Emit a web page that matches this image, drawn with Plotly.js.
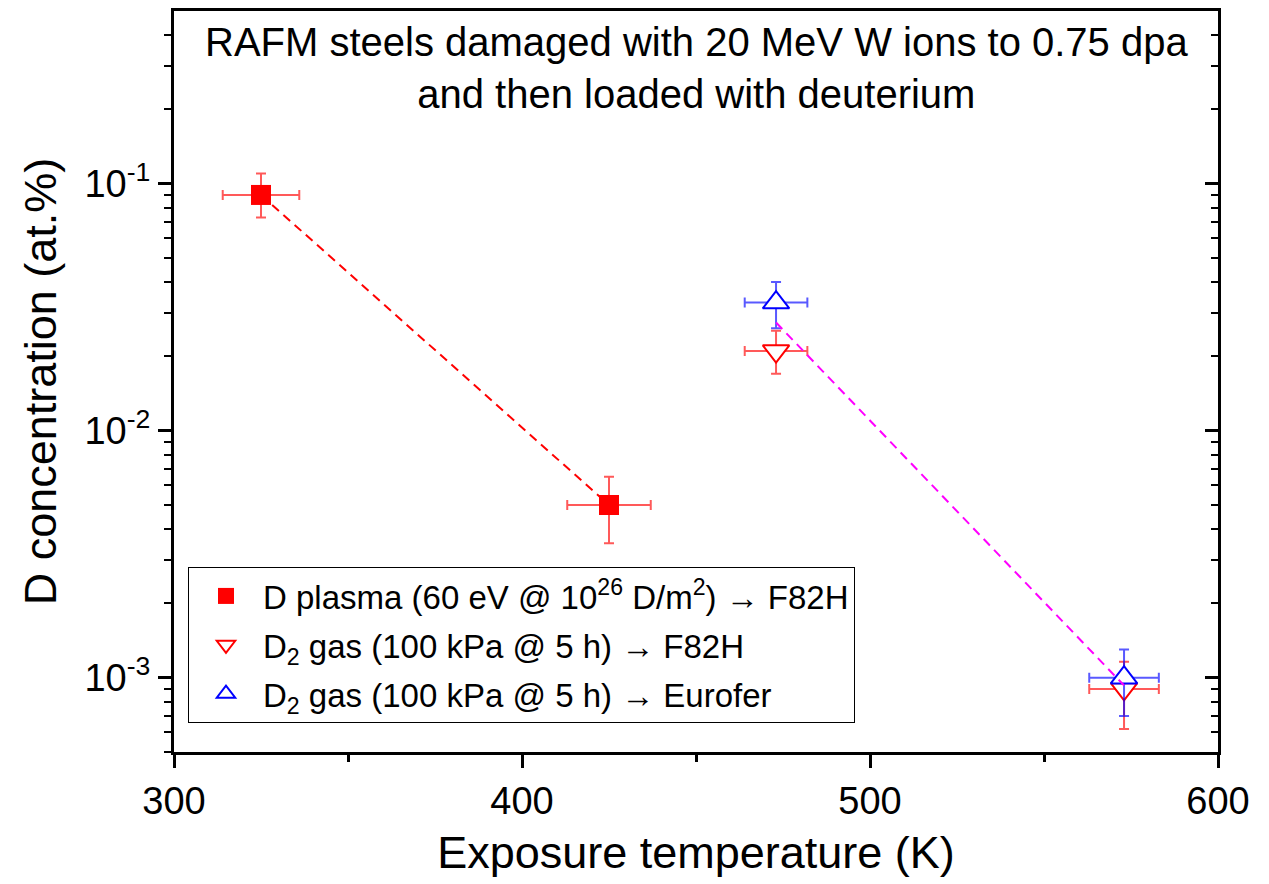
<!DOCTYPE html>
<html>
<head>
<meta charset="utf-8">
<script src="https://cdn.plot.ly/plotly-3.0.1.min.js"></script>
<style>html,body{margin:0;padding:0;background:#fff;}#chart{width:1269px;height:884px;}</style>
</head>
<body>
<div id="chart"></div>
<script>
// D plasma -> F82H
const plasmaT = [325, 425];
const plasmaD = [0.09, 0.005];
const plasmaDErrPlus = [0.02, 0.0015];
const plasmaDErrMinus = [0.017, 0.0015];
const plasmaTErr = [11, 12];

// D2 gas -> F82H
const gasF82HT = [473, 573];
const gasF82HD = [0.021, 0.0009];
const gasF82HDErrPlus = [0.0044, 0.00026];
const gasF82HDErrMinus = [0.004, 0.00028];
const gasF82HTErr = [9, 10];

// D2 gas -> Eurofer
const gasEuroT = [473, 573];
const gasEuroD = [0.033, 0.001];
const gasEuroDErrPlus = [0.007, 0.0003];
const gasEuroDErrMinus = [0.007, 0.0003];
const gasEuroTErr = [9, 10];

// guide line for the gas-loaded samples
const gasLineT = [473, 573];
const gasLineD = [0.0274, 0.00093];

const legendNames = [
  'D plasma (60 eV @ 10<sup>26</sup> D/m<sup>2</sup>) \u2192 F82H',
  'D<sub>2</sub> gas (100 kPa @ 5 h) \u2192 F82H',
  'D<sub>2</sub> gas (100 kPa @ 5 h) \u2192 Eurofer'
];
const titleText = 'RAFM steels damaged with 20 MeV W ions to 0.75 dpa<br>and then loaded with deuterium';
const xTitle = 'Exposure temperature (K)';
const yTitle = 'D concentration (at.%)';
const xTickVals = [300, 400, 500, 600];
const yTickVals = [0.001, 0.01, 0.1];
const yTickText = ['10<sup>-3</sup>', '10<sup>-2</sup>', '10<sup>-1</sup>'];
const yMinorTickVals = [
  0.0005, 0.0006, 0.0007, 0.0008, 0.0009,
  0.002, 0.003, 0.004, 0.005, 0.006, 0.007, 0.008, 0.009,
  0.02, 0.03, 0.04, 0.05, 0.06, 0.07, 0.08, 0.09,
  0.2, 0.3, 0.4
];

const FONT = 'Arial, "Liberation Sans", sans-serif';
const RED = '#ff0000', BLUE = '#0000ff', MAG = '#ff00ff';
const redErr = 'rgba(255,0,0,0.65)', blueErr = 'rgba(0,0,255,0.65)';

const traces = [
  {x: plasmaT, y: plasmaD, mode: 'lines', line: {color: RED, width: 2, dash: '9px,6px'},
   showlegend: false, hoverinfo: 'skip'},
  {x: gasLineT, y: gasLineD, mode: 'lines', line: {color: MAG, width: 2, dash: '9px,6px'},
   showlegend: false, hoverinfo: 'skip', yaxis: 'y2'},
  {x: plasmaT, y: plasmaD, mode: 'markers', name: legendNames[0], legendgroup: 'g1',
   marker: {symbol: 'square', size: 20, color: RED},
   error_y: {type: 'data', array: plasmaDErrPlus, arrayminus: plasmaDErrMinus, color: redErr, thickness: 2, width: 5},
   error_x: {type: 'data', array: plasmaTErr, color: redErr, thickness: 2, width: 5}},
  {x: gasF82HT, y: gasF82HD, mode: 'markers', name: legendNames[1], legendgroup: 'g2',
   marker: {symbol: 'triangle-down', size: 23, color: '#ffffff', line: {color: RED, width: 2}},
   error_y: {type: 'data', array: gasF82HDErrPlus, arrayminus: gasF82HDErrMinus, color: redErr, thickness: 2, width: 5},
   error_x: {type: 'data', array: gasF82HTErr, color: redErr, thickness: 2, width: 5}},
  {x: gasEuroT, y: gasEuroD, mode: 'markers', name: legendNames[2], legendgroup: 'g3',
   marker: {symbol: 'triangle-up', size: 23, color: '#ffffff', line: {color: BLUE, width: 2}},
   error_y: {type: 'data', array: gasEuroDErrPlus, arrayminus: gasEuroDErrMinus, color: blueErr, thickness: 2, width: 5},
   error_x: {type: 'data', array: gasEuroTErr, color: blueErr, thickness: 2, width: 5}}
];

const yRange = [Math.log10(0.0005), Math.log10(0.5)];

const layout = {
  width: 1269, height: 884,
  margin: {l: 174, r: 51, t: 11, b: 132, pad: 0},
  paper_bgcolor: '#ffffff', plot_bgcolor: '#ffffff',
  font: {family: FONT, color: '#000000', size: 25},
  showlegend: true,
  legend: {x: 0.0134, y: 0.2497, xanchor: 'left', yanchor: 'top',
    bordercolor: '#000000', borderwidth: 1, bgcolor: '#ffffff', itemwidth: 64,
    tracegroupgap: 3,
    font: {family: FONT, size: 33, color: '#000000'}},
  xaxis: {
    range: [300, 600], type: 'linear',
    showgrid: false, zeroline: false,
    showline: true, linecolor: '#000000', linewidth: 3, mirror: true,
    ticks: 'outside', ticklen: 13, tickwidth: 3, tickcolor: '#000000',
    tickvals: xTickVals,
    minor: {ticks: 'outside', ticklen: 7, tickwidth: 3, tickcolor: '#000000', dtick: 50},
    tickfont: {family: FONT, size: 38, color: '#000000'},
    title: {text: xTitle, font: {family: FONT, size: 45, color: '#000000'}, standoff: 16}
  },
  yaxis: {
    type: 'log', range: yRange,
    showgrid: false, zeroline: false,
    showline: true, linecolor: '#000000', linewidth: 3, mirror: true,
    ticks: 'outside', ticklen: 13, tickwidth: 3, tickcolor: '#000000',
    tickvals: yTickVals, ticktext: yTickText,
    minor: {ticks: 'outside', ticklen: 7, tickwidth: 2, tickcolor: '#000000', showgrid: false,
            tickmode: 'array', tickvals: yMinorTickVals},
    tickfont: {family: FONT, size: 38, color: '#000000'},
    title: {text: yTitle, font: {family: FONT, size: 45, color: '#000000'}, standoff: 14}
  },
  yaxis2: {
    type: 'log', range: yRange, overlaying: 'y', side: 'right',
    showgrid: false, zeroline: false, showline: false,
    ticks: 'inside', ticklen: 13, tickwidth: 3, tickcolor: '#000000',
    tickmode: 'array', tickvals: yTickVals, showticklabels: false,
    minor: {ticks: 'inside', ticklen: 7, tickwidth: 2, tickcolor: '#000000', showgrid: false,
            tickmode: 'array', tickvals: yMinorTickVals}
  },
  annotations: [{
    text: titleText, xref: 'paper', yref: 'paper', x: 0.5, y: 0.99,
    xanchor: 'center', yanchor: 'top', showarrow: false, align: 'center',
    font: {family: FONT, size: 40, color: '#000000'}
  }]
};

Plotly.newPlot('chart', traces, layout, {displayModeBar: false, staticPlot: true});
</script>
</body>
</html>
